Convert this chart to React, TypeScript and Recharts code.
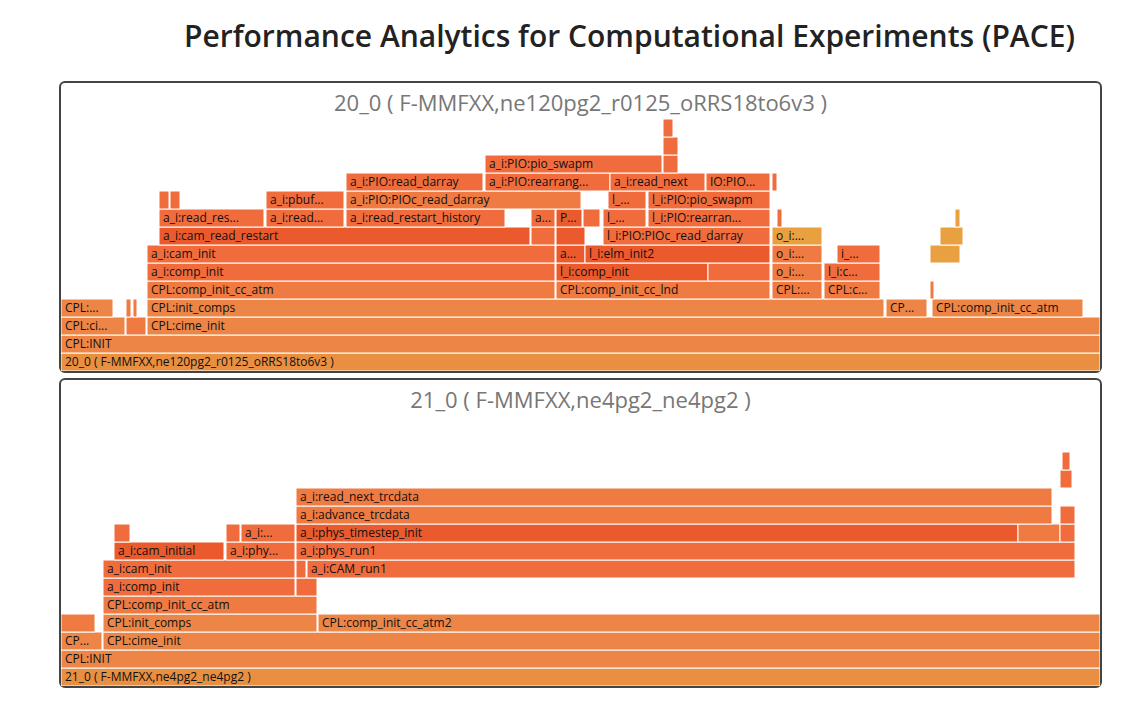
import { ComposedChart, XAxis, YAxis, ReferenceArea } from "recharts"

// [level, start, end, label, colour index]
type Frame = [number, number, number, string, number]

const colors = ["#e98f42", "#ec8546", "#ef7a42", "#f06c3c", "#ea5a2c", "#e8a040", "#ef6f40"]

const title1 = "20_0 ( F-MMFXX,ne120pg2_r0125_oRRS18to6v3 )"
const title2 = "21_0 ( F-MMFXX,ne4pg2_ne4pg2 )"

const frames1: Frame[] = [
  [0, 0, 1039, title1, 0],
  [1, 0, 1039, "CPL:INIT", 1],
  [2, 0, 64, "CPL:cime_init", 1], [2, 65, 85, "", 2], [2, 86, 1039, "CPL:cime_init", 1],
  [3, 0, 52, "CPL:init_comps", 1], [3, 65, 70, "", 2], [3, 72, 76, "", 2], [3, 86, 823, "CPL:init_comps", 1],
  [3, 825, 866, "CPL:init_comps", 1], [3, 871, 1022, "CPL:comp_init_cc_atm", 1],
  [4, 86, 494, "CPL:comp_init_cc_atm", 2], [4, 495, 709, "CPL:comp_init_cc_lnd", 2],
  [4, 711, 761, "CPL:comp_init_cc_ocn", 2], [4, 763, 819, "CPL:comp_init_cc_ice", 2], [4, 869, 873, "", 2],
  [5, 86, 494, "a_i:comp_init", 3], [5, 495, 647, "l_i:comp_init", 4], [5, 647, 709, "", 3],
  [5, 711, 761, "o_i:comp_init", 2], [5, 763, 819, "l_i:comp_init", 3],
  [6, 86, 494, "a_i:cam_init", 3], [6, 495, 524, "a_i:run1", 4], [6, 524, 709, "l_i:elm_init2", 4],
  [6, 711, 761, "o_i:D...", 2], [6, 776, 819, "i_i:init", 3], [6, 869, 899, "", 5],
  [7, 98, 469, "a_i:cam_read_restart", 4], [7, 470, 494, "", 3], [7, 495, 524, "", 4], [7, 542, 709, "l_i:PIO:PIOc_read_darray", 3],
  [7, 711, 761, "o_i:d...", 5], [7, 879, 902, "", 5],
  [8, 98, 203, "a_i:read_restart", 3], [8, 205, 283, "a_i:read_restart", 3], [8, 285, 444, "a_i:read_restart_history", 3],
  [8, 470, 494, "a_i:PIO", 3], [8, 495, 521, "P...", 4], [8, 522, 539, "", 3], [8, 542, 585, "l_i:PIO", 3],
  [8, 587, 709, "l_i:PIO:rearrange_io2comp", 3], [8, 716, 721, "", 3], [8, 894, 899, "", 5],
  [9, 98, 108, "", 3], [9, 109, 119, "", 3], [9, 205, 283, "a_i:pbuf_read", 3], [9, 285, 520, "a_i:PIO:PIOc_read_darray", 2],
  [9, 547, 585, "l_i:ai", 3], [9, 587, 709, "l_i:PIO:pio_swapm", 3],
  [10, 285, 422, "a_i:PIO:read_darray", 3], [10, 424, 549, "a_i:PIO:rearrange_io2comp", 3],
  [10, 549, 644, "a_i:read_next", 3], [10, 645, 709, "IO:PIOc_read", 3], [10, 711, 716, "", 3],
  [11, 424, 601, "a_i:PIO:pio_swapm", 3], [11, 602, 617, "", 3],
  [12, 602, 617, "", 3],
  [13, 602, 612, "", 3],
]

const frames2: Frame[] = [
  [0, 0, 1039, title2, 0],
  [1, 0, 1039, "CPL:INIT", 1],
  [2, 0, 41, "CPL:cime_init", 1], [2, 42, 1039, "CPL:cime_init", 1],
  [3, 0, 34, "", 2], [3, 42, 256, "CPL:init_comps", 1], [3, 257, 1039, "CPL:comp_init_cc_atm2", 1],
  [4, 42, 256, "CPL:comp_init_cc_atm", 2],
  [5, 42, 234, "a_i:comp_init", 3], [5, 235, 256, "", 3],
  [6, 42, 234, "a_i:cam_init", 3], [6, 235, 245, "a", 3], [6, 246, 1014, "a_i:CAM_run1", 3],
  [7, 53, 163, "a_i:cam_initial", 4], [7, 165, 234, "a_i:phys_init", 3], [7, 235, 1014, "a_i:phys_run1", 3],
  [8, 53, 69, "", 3], [8, 165, 179, "", 3], [8, 180, 234, "a_i:PIO:", 3], [8, 235, 957, "a_i:phys_timestep_init", 4],
  [8, 957, 999, "", 2], [8, 999, 1014, "", 3],
  [9, 235, 991, "a_i:advance_trcdata", 2], [9, 999, 1014, "", 3],
  [10, 235, 991, "a_i:read_next_trcdata", 2],
  [11, 999, 1011, "", 3],
  [12, 1001, 1009, "", 3],
]

const FrameLabel = ({ viewBox, text }: any) => {
  if (!viewBox || !text) return null
  const { x, y, width, height } = viewBox
  const fit = Math.floor((width - 6) / 6.2)
  if (fit < 1) return null
  const shown = text.length <= fit ? text : text.slice(0, Math.max(fit - 3, 1)) + "..."
  return (
    <text x={x + 4} y={y + height / 2 + 4} fontSize={12} fill="#111" fontFamily="Open Sans, sans-serif">
      {shown}
    </text>
  )
}

function Flame({ frames, levels, height, title }: { frames: Frame[]; levels: number; height: number; title: string }) {
  return (
    <div style={{ position: "relative", width: 1039, height, border: "2px solid #444", borderRadius: 6, marginLeft: 51, marginBottom: 5 }}>
      <div style={{ position: "absolute", top: 4, width: "100%", textAlign: "center", fontSize: 22, color: "#777", fontFamily: "Open Sans, sans-serif" }}>
        {title}
      </div>
      <ComposedChart width={1039} height={height} data={[{ x: 0 }]} margin={{ top: 0, right: 0, bottom: 0, left: 0 }}>
        <XAxis type="number" dataKey="x" domain={[0, 1039]} hide allowDataOverflow />
        <YAxis type="number" domain={[0, levels]} hide allowDataOverflow />
        {frames.map(([lv, s, e, label, c], i) => (
          <ReferenceArea
            key={i}
            x1={s}
            x2={e}
            y1={lv}
            y2={lv + 1}
            fill={colors[c]}
            fillOpacity={1}
            stroke="#fff"
            strokeWidth={1}
            ifOverflow="visible"
            label={<FrameLabel text={label} />}
          />
        ))}
      </ComposedChart>
    </div>
  )
}

export default function App() {
  return (
    <div style={{ width: 1131 }}>
      <div style={{ fontFamily: "Open Sans, sans-serif", fontWeight: 600, fontSize: 30, color: "#222", textAlign: "center", marginLeft: 112, marginTop: 7, marginBottom: 25 }}>
        Performance Analytics for Computational Experiments (PACE)
      </div>
      <Flame frames={frames1} levels={16} height={288} title={title1} />
      <Flame frames={frames2} levels={17} height={306} title={title2} />
    </div>
  )
}
